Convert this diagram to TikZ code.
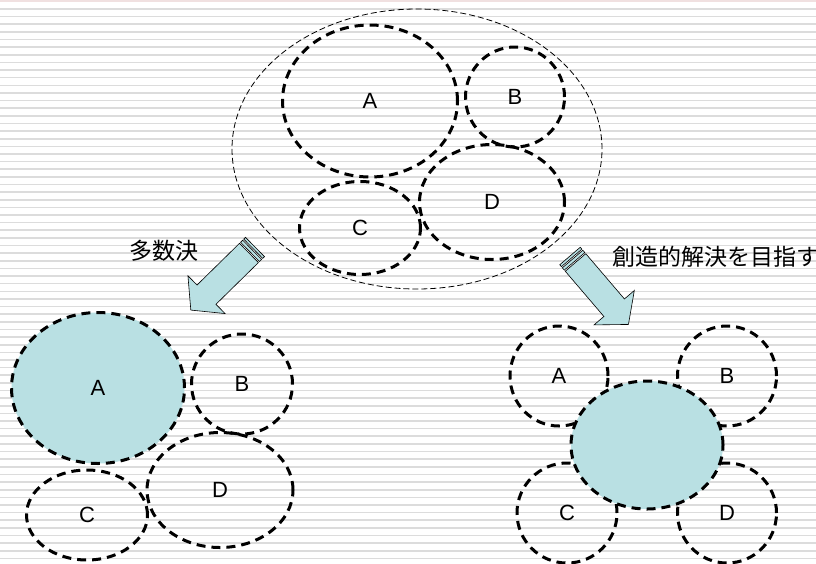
\documentclass[tikz,border=0pt]{standalone}
\usepackage{fontspec}
\setmainfont{Liberation Sans}
\newfontfamily\jp{Noto Sans CJK JP}
\usepackage{tikz}
\usetikzlibrary{shapes.geometric}
\usepackage{xcolor}
\definecolor{paleteal}{RGB}{185,224,227}
\definecolor{stripegray}{RGB}{220,220,220}
\definecolor{edgepink}{RGB}{240,224,224}
\tikzstyle{member} = [draw=black, ellipse, line width=3pt, dash pattern=on 9pt off 6pt, inner sep=0pt, font=\fontsize{22}{26}\selectfont]
\tikzstyle{chosen} = [member, fill=paleteal]
\tikzstyle{whole} = [draw=black, ellipse, line width=0.8pt, dash pattern=on 6pt off 3pt, inner sep=0pt]
\tikzstyle{shift arrow} = [draw=black, line width=0.6pt, fill=paleteal]
\tikzstyle{caption} = [font=\jp\fontsize{23}{26}\selectfont]

\begin{document}
\begin{tikzpicture}[x=1pt, y=-1pt]
\useasboundingbox (0,0) rectangle (816,563);
% striped paper
\fill[white] (0,0) rectangle (816,563);
\foreach \k in {0,...,73}
    \draw[stripegray, line width=1.6pt] (0,9+7.63*\k) -- (816,9+7.63*\k);
\draw[edgepink, line width=2pt] (0,1) -- (816,1);

% the group before the decision
\node [whole, minimum width=370pt, minimum height=280pt] (all) at (417,149) {};
\node [member, minimum width=175pt, minimum height=152pt] (topA) at (370,101) {A};
\node [member, minimum width=99pt, minimum height=100pt] (topB) at (515,97) {B};
\node [member, minimum width=121pt, minimum height=93pt] (topC) at (360,228) {C};
\node [member, minimum width=145pt, minimum height=115pt] (topD) at (492,202) {D};

% majority vote
\node [member, minimum width=101pt, minimum height=100pt] (voteB) at (242,384) {B};
\node [member, minimum width=121pt, minimum height=90pt] (voteC) at (87,515) {C};
\node [member, minimum width=146pt, minimum height=115pt] (voteD) at (220,490) {D};
\node [chosen, minimum width=173pt, minimum height=151pt] (voteA) at (98,388) {A};

% creative solution
\node [member, minimum width=98pt, minimum height=100pt] (newA) at (559,376) {A};
\node [member, minimum width=99pt, minimum height=100pt] (newB) at (727,376) {B};
\node [member, minimum width=100pt, minimum height=100pt] (newC) at (567,513) {C};
\node [member, minimum width=99pt, minimum height=100pt] (newD) at (727,513) {D};
\node [chosen, minimum width=152pt, minimum height=128pt] (common) at (647,445) {};

% block arrows with striped tails
\foreach \tx/\ty/\dir in {255/247/224.5, 570/256/-49.5}
{
    \begin{scope}[shift={(\tx,\ty)}, rotate=\dir]
        \draw[shift arrow] (0,-13.5) rectangle (2.5,13.5);
        \draw[shift arrow] (4,-13.5) rectangle (7,13.5);
        \draw[shift arrow] (8.5,-13.5) -- (68,-13.5) -- (68,-26.5) -- (90,0)
            -- (68,26.5) -- (68,13.5) -- (8.5,13.5) -- cycle;
    \end{scope}
}
\node[caption] (vote) at (164,251) {多数決};
\node[caption, anchor=west] (create) at (609,257) {創造的解決を目指す};
\end{tikzpicture}
\end{document}
